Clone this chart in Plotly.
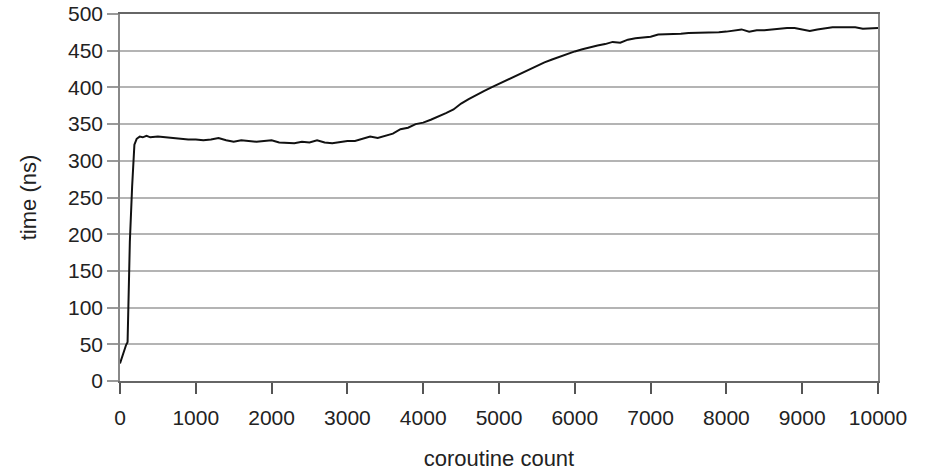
import plotly.graph_objects as go

coroutine_count = [0, 40, 80, 100, 130, 160, 190, 220, 260, 300, 350, 400, 450, 500,
                   600, 700, 800, 900, 1000, 1100, 1200, 1300, 1400, 1500, 1600, 1700,
                   1800, 1900, 2000, 2100, 2200, 2300, 2400, 2500, 2600, 2700, 2800,
                   2900, 3000, 3100, 3200, 3300, 3400, 3500, 3600, 3700, 3800, 3900,
                   4000, 4100, 4200, 4300, 4400, 4500, 4600, 4700, 4800, 4900, 5000,
                   5100, 5200, 5300, 5400, 5500, 5600, 5700, 5800, 5900, 6000, 6100,
                   6200, 6300, 6400, 6500, 6600, 6700, 6800, 6900, 7000, 7100, 7200,
                   7300, 7400, 7500, 7600, 7700, 7800, 7900, 8000, 8100, 8200, 8300,
                   8400, 8500, 8600, 8700, 8800, 8900, 9000, 9100, 9200, 9300, 9400,
                   9500, 9600, 9700, 9800, 9900, 10000]
time_ns = [24, 38, 49, 53, 190, 265, 322, 330, 333, 332, 334, 332, 333, 333,
           332, 331, 331, 329, 329, 328, 329, 331, 328, 326, 328, 327,
           326, 327, 328, 325, 324, 324, 326, 325, 328, 325, 324,
           326, 327, 327, 330, 333, 331, 334, 337, 343, 345, 350,
           352, 356, 360, 365, 370, 378, 384, 390, 395, 400, 405,
           410, 415, 419, 424, 429, 434, 438, 442, 446, 449, 452,
           455, 457, 459, 462, 461, 465, 467, 468, 469, 472, 472,
           473, 473, 474, 474, 474, 475, 475, 476, 477, 479, 476,
           478, 478, 479, 480, 481, 481, 479, 477, 479, 481, 482,
           482, 482, 482, 480, 481, 481]

x_ticks = [0, 1000, 2000, 3000, 4000, 5000, 6000, 7000, 8000, 9000, 10000]
x_tick_labels = ["0", "1000", "2000", "3000", "4000", "5000", "6000", "7000",
                 "8000", "9000", "10000"]
y_ticks = [0, 50, 100, 150, 200, 250, 300, 350, 400, 450, 500]

fig = go.Figure()
fig.add_trace(go.Scatter(
    x=coroutine_count, y=time_ns, mode="lines",
    line=dict(color="#111111", width=2),
    showlegend=False, hoverinfo="skip",
))

font = dict(family="Liberation Sans, Arial, sans-serif", size=21, color="#222222")

fig.update_layout(
    width=931, height=471,
    margin=dict(l=120, r=53, t=14, b=90, autoexpand=False),
    paper_bgcolor="white", plot_bgcolor="white",
    font=font,
    xaxis=dict(
        range=[0, 10000], tickvals=x_ticks, ticktext=x_tick_labels,
        automargin=False, ticklabeloverflow="allow",
        showgrid=False, zeroline=False,
        showline=True, linecolor="#666666", linewidth=1.5, mirror=True,
        ticks="outside", ticklen=11, tickcolor="#555555", tickwidth=1.5,
        ticklabelstandoff=6,
        title=dict(text="coroutine count", font=dict(size=22), standoff=24),
    ),
    yaxis=dict(
        range=[0, 500], tickvals=y_ticks,
        automargin=False, ticklabeloverflow="allow",
        showgrid=True, gridcolor="#b4b4b4", gridwidth=1.5,
        zeroline=False,
        showline=True, linecolor="#888888", linewidth=1.5, mirror=True,
        ticks="outside", ticklen=11, tickcolor="#999999", tickwidth=1.5,
        ticklabelstandoff=0,
        title=dict(text="time (ns)", font=dict(size=22), standoff=25),
    ),
)

fig.write_html(
    "out.html",
    config={"displayModeBar": False},
    post_script="document.body.style.margin='0';document.body.style.overflow='hidden';",
)
